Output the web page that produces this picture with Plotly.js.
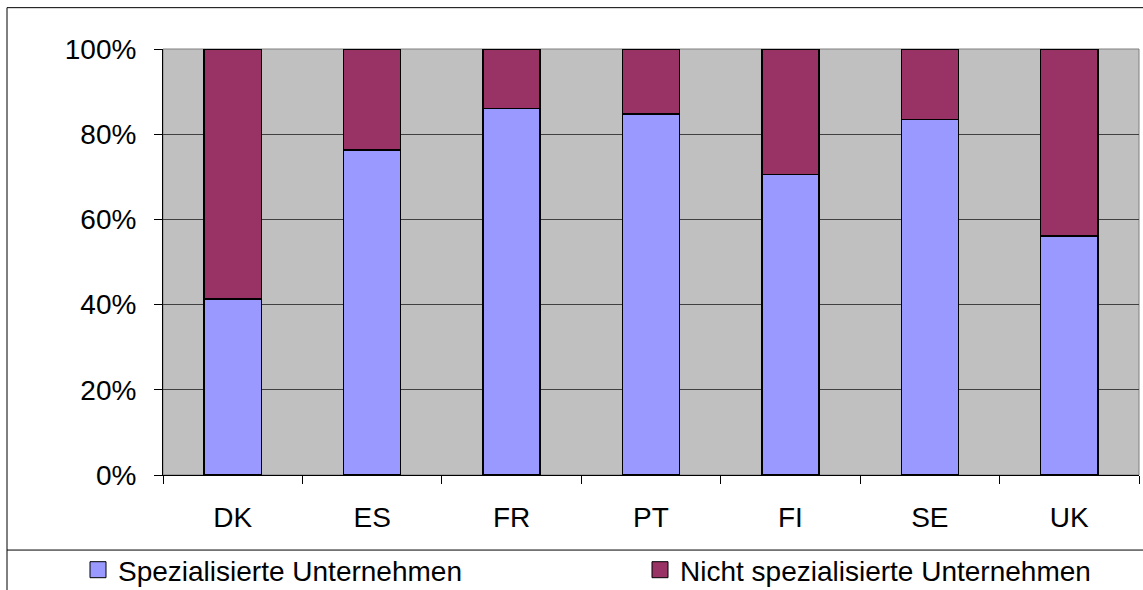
<!DOCTYPE html>
<html>
<head>
<meta charset="utf-8">
<script src="https://cdn.plot.ly/plotly-3.0.1.min.js"></script>
<style>
html,body{margin:0;padding:0;background:#fff;}
#chart{width:1143px;height:590px;}
</style>
</head>
<body>
<div id="chart"></div>
<script>
const categories = ["DK", "ES", "FR", "PT", "FI", "SE", "UK"];
const spezialisiert = [41.3, 76.3, 86.0, 84.8, 70.5, 83.5, 56.1];
const nichtSpezialisiert = spezialisiert.map(v => 100 - v);
const seriesNames = ["Spezialisierte Unternehmen", "Nicht spezialisierte Unternehmen"];
const seriesColors = ["#9999FF", "#993366"];

const W = 1143, H = 590;
const L = 163, R = 1139, T = 49.3, B = 475;
const px = x => (x - L) / (R - L);
const py = y => (B - y) / (B - T);

const traces = [
  {type: "bar", name: seriesNames[0], x: categories, y: spezialisiert, width: 0.41, showlegend: false,
   marker: {color: seriesColors[0], line: {color: "#000000", width: 1.5}}, hoverinfo: "x+y"},
  {type: "bar", name: seriesNames[1], x: categories, y: nichtSpezialisiert, width: 0.41, showlegend: false,
   marker: {color: seriesColors[1], line: {color: "#000000", width: 1.5}}, hoverinfo: "x+y"},
  // legend keys (same series, square keys like the reference)
  {type: "scatter", mode: "markers", name: seriesNames[0], x: [null], y: [null], legend: "legend",
   marker: {symbol: "square", size: 16, color: seriesColors[0], line: {color: "#000", width: 1}}},
  {type: "scatter", mode: "markers", name: seriesNames[1], x: [null], y: [null], legend: "legend2",
   marker: {symbol: "square", size: 16, color: seriesColors[1], line: {color: "#000", width: 1}}}
];

const font = {family: "Liberation Sans, Arial, sans-serif", color: "#000000", size: 28};
const legFont = {family: "Liberation Sans, Arial, sans-serif", color: "#000000", size: 28};

const legBase = {orientation: "h", xref: "container", yref: "container", xanchor: "left",
                 y: 1 - 570 / H, yanchor: "middle", font: legFont, bgcolor: "rgba(0,0,0,0)", borderwidth: 0,
                 itemsizing: "trace"};

const layout = {
  width: W, height: H,
  margin: {l: L, r: W - R, t: T, b: H - B, pad: 0},
  paper_bgcolor: "#ffffff",
  plot_bgcolor: "#C0C0C0",
  barmode: "stack",
  font: font,
  showlegend: true,
  legend: Object.assign({}, legBase, {x: 78 / W}),
  legend2: Object.assign({}, legBase, {x: 640 / W}),
  xaxis: {type: "category", showgrid: false, showline: true, linecolor: "#000", linewidth: 1,
          ticks: "outside", tickson: "boundaries", ticklen: 8, tickcolor: "#000", tickwidth: 1,
          ticklabelstandoff: 17, tickfont: font, fixedrange: true, zeroline: false},
  yaxis: {range: [0, 100], dtick: 20, tick0: 0, ticksuffix: "%", showgrid: true, gridcolor: "#404040", gridwidth: 1,
          showline: true, linecolor: "#000", linewidth: 1, ticks: "outside", ticklen: 8, tickcolor: "#000",
          ticklabelstandoff: 12, tickfont: font, zeroline: false, fixedrange: true},
  shapes: [
    {type: "rect", xref: "paper", yref: "paper", x0: 0, x1: 1, y0: 0, y1: 1, line: {color: "#808080", width: 1}, layer: "below"},
    {type: "line", xref: "paper", yref: "paper", x0: px(7), x1: px(1143), y0: py(8), y1: py(8), line: {color: "#000", width: 1}},
    {type: "line", xref: "paper", yref: "paper", x0: px(7), x1: px(7), y0: py(8), y1: py(590), line: {color: "#000", width: 1}},
    {type: "line", xref: "paper", yref: "paper", x0: px(7), x1: px(1143), y0: py(550), y1: py(550), line: {color: "#000", width: 1}}
  ]
};

Plotly.newPlot("chart", traces, layout, {displayModeBar: false, staticPlot: true});
</script>
</body>
</html>
